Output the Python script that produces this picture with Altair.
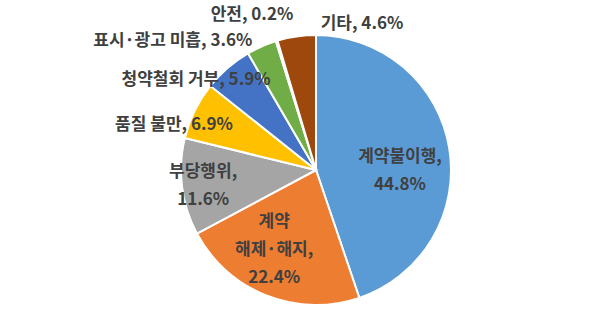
import math
import altair as alt
import pandas as pd

# ---- data ----
categories = ["계약불이행", "계약 해제·해지", "부당행위", "품질 불만",
              "청약철회 거부", "표시·광고 미흡", "안전", "기타"]
values = [44.8, 22.4, 11.6, 6.9, 5.9, 3.6, 0.2, 4.6]
label_texts = ["계약불이행,\n44.8%", "계약\n해제·해지,\n22.4%", "부당행위,\n11.6%",
               "품질 불만, 6.9%", "청약철회 거부, 5.9%", "표시·광고 미흡, 3.6%",
               "안전, 0.2%", "기타, 4.6%"]

# ---- style / layout ----
colors = ["#5B9BD5", "#ED7D31", "#A5A5A5", "#FFC000",
          "#4472C4", "#70AD47", "#255E91", "#9E480E"]
CX, CY, R = 316, 170, 135
LINE_H = 28
label_angle_deg = [90.7, 207.7, 261.9, 287.6, 306.9, 312.1, 337.6, 17.5]
label_radius = [84, 90, 114, 149, 150, 193, 168, 153]

df = pd.DataFrame({
    "idx": list(range(len(categories))),
    "category": categories,
    "value": values,
})
lab = pd.DataFrame({
    "label": label_texts,
    "nlines": [t.count("\n") + 1 for t in label_texts],
    "ang": label_angle_deg,
    "rad": label_radius,
})

pie = alt.Chart(df).mark_arc(
    outerRadius=R, stroke="white", strokeWidth=2
).encode(
    theta=alt.Theta("value:Q", stack=True),
    order=alt.Order("idx:Q"),
    color=alt.Color("category:N", scale=alt.Scale(domain=categories, range=colors),
                    legend=None),
    x=alt.value(CX),
    y=alt.value(CY),
)

text = alt.Chart(lab).transform_calculate(
    lx=f"{CX} + datum.rad * sin(datum.ang * PI / 180)",
    ly=f"{CY} - datum.rad * cos(datum.ang * PI / 180) - (datum.nlines - 1) * {LINE_H} / 2",
).mark_text(
    font="Noto Sans CJK KR", fontSize=17, fontWeight="bold", color="#404040",
    align="center", baseline="middle", lineBreak="\n", lineHeight=LINE_H,
).encode(
    x=alt.X("lx:Q", scale=None),
    y=alt.Y("ly:Q", scale=None),
    text="label:N",
)

chart = alt.layer(pie, text).properties(
    width=600, height=314, padding=0,
    autosize=alt.AutoSizeParams(type="none"),
    background="white",
).configure_view(stroke=None)

chart.save("out.html", embed_options={"renderer": "svg", "actions": False})
